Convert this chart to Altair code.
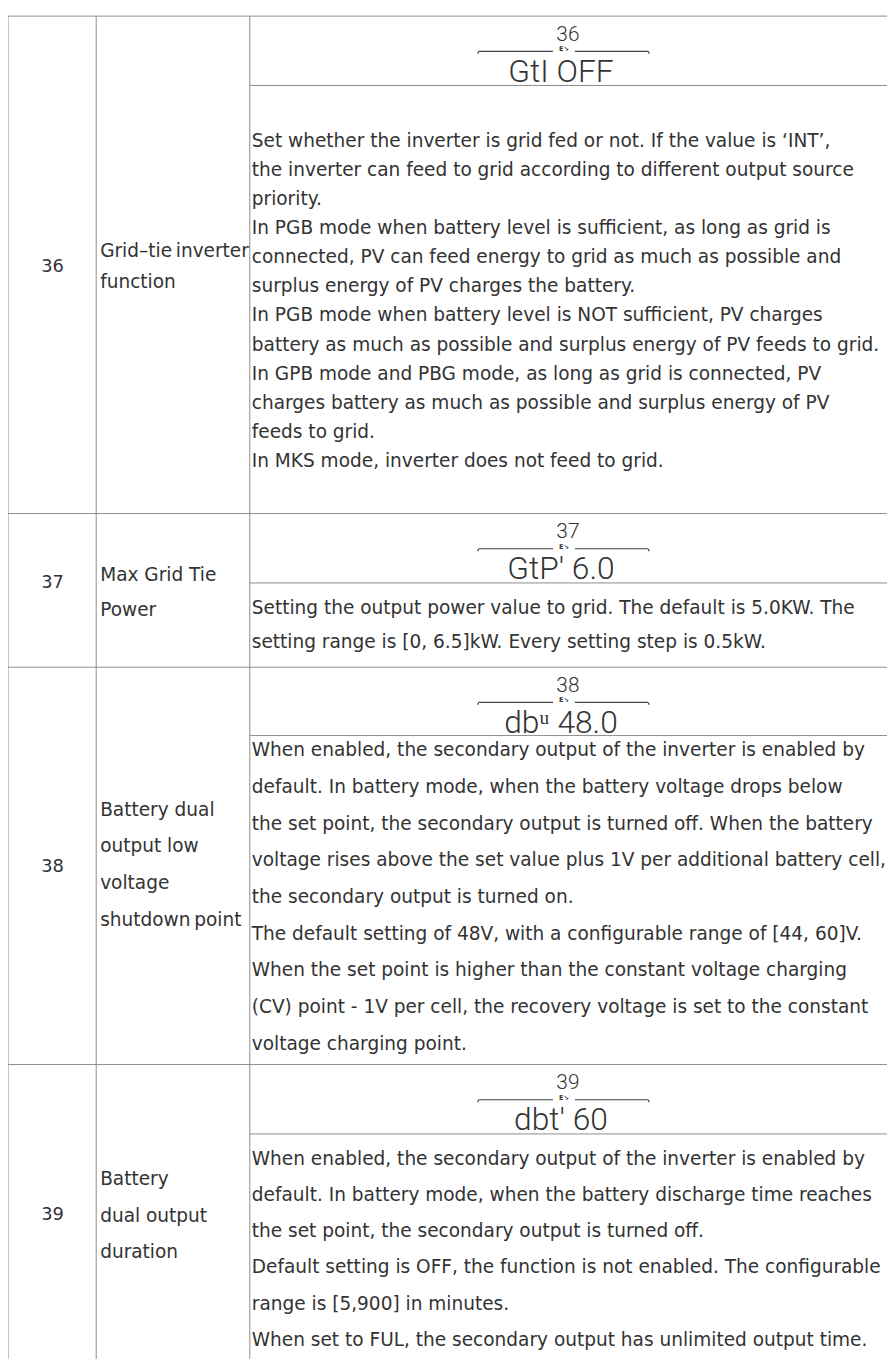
import altair as alt
import pandas as pd

# ---------------- content ----------------
row_ids = ["36", "37", "38", "39"]
row_names = [
    ["Grid–tie\u2009inverter", "function"],
    ["Max Grid Tie", "Power"],
    ["Battery dual", "output low", "voltage", "shutdown\u2009point"],
    ["Battery", "dual output", "duration"],
]
lcd_top = ["36", "37", "38", "39"]
lcd_bottom = ["GtI OFF", "GtP' 6.0", "db\u1d58 48.0", "dbt' 60"]
desc_36 = [
    "Set whether the inverter is grid fed or not. If the value is ‘INT’,",
    "the inverter can feed to grid according to different output source",
    "priority.",
    "In PGB mode when battery level is sufficient, as long as grid is",
    "connected, PV can feed energy to grid as much as possible and",
    "surplus energy of PV charges the battery.",
    "In PGB mode when battery level is NOT sufficient, PV charges",
    "battery as much as possible and surplus energy of PV feeds to grid.",
    "In GPB mode and PBG mode, as long as grid is connected, PV",
    "charges battery as much as possible and surplus energy of PV",
    "feeds to grid.",
    "In MKS mode, inverter does not feed to grid.",
]
desc_37 = [
    "Setting the output power value to grid. The default is 5.0KW. The",
    "setting range is [0, 6.5]kW. Every setting step is 0.5kW.",
]
desc_38 = [
    "When enabled, the secondary output of the inverter is enabled by",
    "default. In battery mode, when the battery voltage drops below",
    "the set point, the secondary output is turned off. When the battery",
    "voltage rises above the set value plus 1V per additional battery cell,",
    "the secondary output is turned on.",
    "The default setting of 48V, with a configurable range of [44, 60]V.",
    "When the set point is higher than the constant voltage charging",
    "(CV) point - 1V per cell, the recovery voltage is set to the constant",
    "voltage charging point.",
]
desc_39 = [
    "When enabled, the secondary output of the inverter is enabled by",
    "default. In battery mode, when the battery discharge time reaches",
    "the set point, the secondary output is turned off.",
    "Default setting is OFF, the function is not enabled. The configurable",
    "range is [5,900] in minutes.",
    "When set to FUL, the secondary output has unlimited output time.",
]
descs = [desc_36, desc_37, desc_38, desc_39]

# ---------------- layout (page pixels) ----------------
LEFT, RIGHT, TOP, BOTTOM = 8, 895, 8, 1365
col_lines = [8, 97, 252]
row_tops = [10, 512, 667, 1068]
lcd_div = [80, 582, 736, 1138]
id_base = [268, 587, 874, 1225]
name_base0 = [253, 580, 817, 1190]
name_step = [31.5, 35, 37, 36.5]
desc_base0 = [142, 613, 757, 1169]
desc_step = [29.35, 35, 37, 36.6]
BODY_SIZE = 18.7
lcd_cx = 569

rules = []
for y in row_tops:
    rules.append(dict(x=LEFT, x2=RIGHT, y=y, y2=y))
for y in lcd_div:
    rules.append(dict(x=col_lines[2], x2=RIGHT, y=y, y2=y))
for x in col_lines:
    rules.append(dict(x=x, x2=x, y=row_tops[0], y2=BOTTOM))
rules_df = pd.DataFrame(rules)

lcd_lines = []
for t in row_tops:
    yl = t + 35.5
    lcd_lines.append(dict(x=lcd_cx - 86, x2=lcd_cx - 11, y=yl, y2=yl))
    lcd_lines.append(dict(x=lcd_cx + 11, x2=lcd_cx + 85, y=yl, y2=yl))
    lcd_lines.append(dict(x=lcd_cx - 86, x2=lcd_cx - 87, y=yl, y2=yl + 2.5))
    lcd_lines.append(dict(x=lcd_cx + 85, x2=lcd_cx + 86, y=yl, y2=yl + 2.5))
lcd_df = pd.DataFrame(lcd_lines)

left_txt = []
for i in range(4):
    for j, s in enumerate(row_names[i]):
        left_txt.append(dict(x=101, y=name_base0[i] + j * name_step[i], t=s))
    for j, s in enumerate(descs[i]):
        left_txt.append(dict(x=254, y=desc_base0[i] + j * desc_step[i], t=s))
left_df = pd.DataFrame(left_txt)

id_df = pd.DataFrame([dict(x=53, y=id_base[i], t=row_ids[i]) for i in range(4)])

lcd_txt = []
for i in range(4):
    t = row_tops[i]
    lcd_txt.append(dict(x=lcd_cx + 4, y=t + 25, t=lcd_top[i], size=21))
    lcd_txt.append(dict(x=lcd_cx - 3, y=t + 66, t=lcd_bottom[i], size=32))
lcdt_df = pd.DataFrame(lcd_txt)
icon_df = pd.DataFrame([dict(x=lcd_cx, y=t + 33.5, t="E↘") for t in row_tops])

xs = alt.Scale(domain=[LEFT, RIGHT], range=[0, RIGHT - LEFT])
ys = alt.Scale(domain=[TOP, BOTTOM], range=[0, BOTTOM - TOP])

BODY_FONT = "DejaVu Sans"
LCD_FONT = "Roboto"
TXT = "#333333"

grid = alt.Chart(rules_df).mark_rule(color="#8c8c8c", strokeWidth=1).encode(
    x=alt.X("x:Q", scale=xs, axis=None), x2="x2:Q",
    y=alt.Y("y:Q", scale=ys, axis=None), y2="y2:Q")

lcd_rules = alt.Chart(lcd_df).mark_rule(color="#444444", strokeWidth=1.2).encode(
    x=alt.X("x:Q", scale=xs, axis=None), x2="x2:Q",
    y=alt.Y("y:Q", scale=ys, axis=None), y2="y2:Q")

left_text = alt.Chart(left_df).mark_text(
    align="left", baseline="alphabetic", font=BODY_FONT, color=TXT,
    fontSize=BODY_SIZE).encode(
    x=alt.X("x:Q", scale=xs, axis=None), y=alt.Y("y:Q", scale=ys, axis=None),
    text="t:N")

id_text = alt.Chart(id_df).mark_text(
    align="center", baseline="alphabetic", font=BODY_FONT, color=TXT,
    fontSize=18).encode(
    x=alt.X("x:Q", scale=xs, axis=None), y=alt.Y("y:Q", scale=ys, axis=None),
    text="t:N")

lcd_text = alt.Chart(lcdt_df).mark_text(
    align="center", baseline="alphabetic", font=LCD_FONT, color="#333333",
    fontWeight=300).encode(
    x=alt.X("x:Q", scale=xs, axis=None), y=alt.Y("y:Q", scale=ys, axis=None),
    text="t:N", size=alt.Size("size:Q", scale=None))

icon_text = alt.Chart(icon_df).mark_text(
    align="center", baseline="middle", font="DejaVu Sans", color="#333333",
    fontSize=6.5, fontWeight="bold").encode(
    x=alt.X("x:Q", scale=xs, axis=None), y=alt.Y("y:Q", scale=ys, axis=None),
    text="t:N")

chart = alt.layer(grid, lcd_rules, left_text, id_text, lcd_text, icon_text).properties(
    width=RIGHT - LEFT, height=BOTTOM - TOP, padding=0, autosize="none",
    background="white"
).configure_view(stroke=None)

chart.save("out.html", embed_options={"renderer": "svg", "actions": False})
